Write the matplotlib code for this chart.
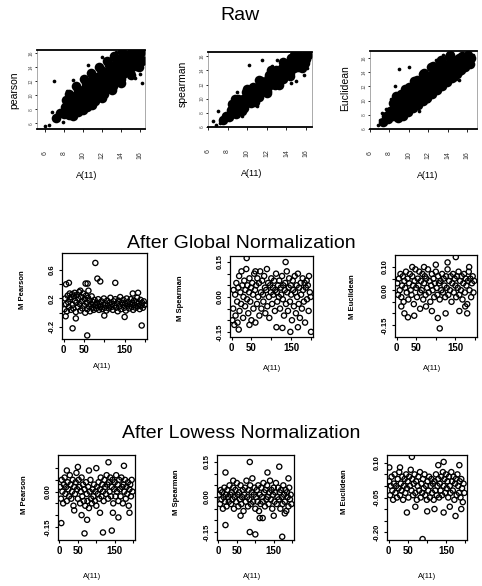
import matplotlib
matplotlib.use("Agg")
import matplotlib.pyplot as plt

plt.rcParams['font.family'] = ['Liberation Sans', 'DejaVu Sans']

# ---- raw scatter data (A(11) vs. measure) ----
raw_pearson_core = [(7.2,6.8),(7.6,7.5),(8.0,7.4),(8.1,8.3),(8.5,7.9),(8.6,9.0),(8.9,8.4),(9.0,9.6),(9.2,7.9),(9.4,9.0),
    (9.5,10.3),(9.7,8.6),(9.9,9.7),(10.0,10.8),(10.2,8.9),(10.3,11.4),(10.5,10.0),(10.6,9.2),(10.8,11.0),(10.9,12.1),
    (11.1,10.1),(11.2,11.7),(11.4,9.6),(11.5,12.6),(11.7,10.8),(11.8,11.9),(12.0,12.9),(12.1,10.5),(12.3,11.6),(12.4,13.4),
    (12.6,12.4),(12.7,11.1),(12.9,13.8),(13.0,12.0),(13.2,13.0),(13.3,14.3),(13.5,12.5),(13.6,13.7),(13.8,14.8),(13.9,12.9),
    (14.1,14.2),(14.2,15.3),(14.4,13.5),(14.5,14.7),(14.7,15.8),(14.9,14.3),(15.0,15.4),(15.3,16.0),(15.5,14.9),(15.8,15.8),
    (16.1,16.2),(10.0,9.8),(11.0,11.0),(12.0,11.8),(13.0,13.2),(9.2,9.1),(10.7,10.5),(11.6,11.3),
    (8.5,10.2),(9.3,11.3),(10.1,12.4),(10.9,13.2),(11.7,14.0),(12.5,14.9),(13.3,15.6),(14.1,16.2),(9.0,7.0),
    (10.0,7.9),(11.0,8.7),(12.0,9.7),(13.0,10.8),(14.0,11.8),(15.0,12.9),(15.9,14.0),(16.2,15.0),
    (8.2,9.3),(8.8,9.9),(9.5,10.8),(10.3,11.8),(11.1,12.7),(11.9,13.6),(12.7,14.4),(13.5,15.2),(14.3,15.8),(15.1,16.3),
    (8.6,7.2),(9.5,7.6),(10.4,8.4),(11.3,9.2),(12.2,10.2),(13.1,11.3),(14.0,12.4),(14.8,13.4),(15.6,14.2),(16.2,14.9),
    (9.8,10.4),(10.5,11.0),(11.3,12.3),(12.2,13.1),(13.0,14.0),(13.8,14.1),(14.6,15.1),(10.4,9.5),(11.2,10.6),
    (12.4,11.2),(13.4,12.2),(14.2,13.0),(15.0,14.1)]
raw_pearson_out = [(6.0,5.6),(6.5,5.8),(7.9,6.2),(9.0,12.2),(10.5,14.3),(12.0,15.5),(15.5,12.5),(16.0,13.0),(7.0,12.0),
    (13.5,16.2),(15.2,13.4),(8.3,10.6),(16.2,11.8),(6.8,7.6)]

raw_spearman_core = [(7.5,7.0),(7.8,7.6),(8.1,7.4),(8.3,8.4),(8.6,8.0),(8.8,9.0),(9.0,8.3),(9.2,9.5),(9.4,8.8),(9.6,9.9),
    (9.8,9.2),(10.0,10.4),(10.2,9.6),(10.4,10.9),(10.5,10.1),(10.7,11.3),(10.9,10.4),(11.1,11.7),(11.2,10.8),(11.4,12.0),
    (11.6,11.2),(11.8,12.4),(11.9,11.5),(12.1,12.8),(12.3,11.9),(12.5,13.2),(12.6,12.3),(12.8,13.5),(13.0,12.6),(13.2,13.9),
    (13.3,13.0),(13.5,14.3),(13.7,13.3),(13.9,14.6),(14.0,13.7),(14.2,15.0),(14.4,14.0),(14.6,15.3),(14.8,14.4),(15.0,15.6),
    (15.2,14.8),(15.4,15.9),(15.6,15.2),(15.8,16.1),(16.0,15.6),(16.2,16.2),(9.5,9.4),(10.3,10.3),(11.3,11.4),(12.2,12.3),
    (13.1,13.2),(14.1,14.3),(15.1,15.2),(8.7,8.6),(11.7,11.8),(12.9,13.0),
    (8.8,10.0),(10.0,11.4),(11.2,12.7),(12.4,14.0),(13.6,15.2),(14.8,16.2),(9.5,8.2),(10.8,9.5),(12.0,10.8),
    (13.2,12.0),(14.4,13.2),(15.6,14.4),
    (8.4,9.2),(9.1,10.0),(9.9,10.9),(10.6,11.7),(11.4,12.5),(12.2,13.4),(12.9,14.1),(13.7,14.8),(14.5,15.7),(15.2,16.2),
    (8.9,7.9),(9.7,8.7),(10.4,9.4),(11.2,10.2),(12.0,11.1),(12.8,12.0),(13.6,12.8),(14.4,13.6),(15.2,14.5),(15.9,15.0)]
raw_spearman_out = [(6.8,6.3),(7.2,6.5),(6.5,6.8),(9.0,10.9),(9.5,7.5),(11.5,15.4),(10.2,14.8),(14.5,12.2),(15.0,12.5),
    (15.8,13.4),(16.1,14.3),(13.0,15.5),(12.5,14.6),(11.0,9.0),(8.2,9.6),(7.0,8.3)]

raw_euclid_core = [(7.3,7.0),(7.6,7.8),(7.9,7.4),(8.1,8.6),(8.4,7.9),(8.6,9.2),(8.8,8.4),(9.0,9.8),(9.2,8.7),(9.4,10.3),
    (9.6,9.2),(9.8,10.8),(10.0,9.6),(10.2,11.2),(10.3,10.0),(10.5,11.6),(10.7,10.3),(10.9,12.0),(11.0,10.7),(11.2,12.4),
    (11.4,11.1),(11.6,12.8),(11.8,11.5),(12.0,13.2),(12.1,11.8),(12.3,13.6),(12.5,12.2),(12.7,14.0),(12.9,12.6),(13.1,14.3),
    (13.3,13.0),(13.5,14.7),(13.7,13.4),(13.9,15.0),(14.1,13.8),(14.3,15.3),(14.5,14.2),(14.7,15.7),(14.9,14.6),(15.1,16.0),
    (15.3,15.0),(15.5,16.3),(15.8,15.5),(16.1,16.5),(16.4,16.0),(9.7,10.0),(10.6,10.9),(11.5,11.9),(12.4,12.9),(13.4,13.8),
    (14.4,14.7),(8.5,8.6),(15.2,15.5),
    (8.7,10.6),(9.6,11.7),(10.5,12.7),(11.4,13.7),(12.3,14.7),(13.2,15.5),(14.1,16.2),(9.4,7.9),(10.4,8.9),
    (11.4,9.9),(12.4,11.0),(13.4,12.1),(14.4,13.2),(15.4,14.3),(16.3,15.2),
    (8.4,9.7),(9.2,10.9),(10.0,11.9),(10.8,12.9),(11.6,13.9),(12.5,14.9),(13.3,15.7),(14.2,16.4),
    (8.9,7.6),(9.9,8.4),(10.9,9.4),(11.9,10.4),(12.9,11.5),(13.9,12.6),(14.9,13.7),(15.8,14.8),
    (10.1,10.6),(11.0,11.5),(11.9,12.5),(12.8,13.4),(13.7,14.3),(14.6,15.2),(10.3,9.4),(11.3,10.5),(12.3,11.4),
    (13.2,12.3),(14.2,13.3),(15.1,14.2)]
raw_euclid_out = [(6.8,6.6),(7.0,7.3),(7.2,8.2),(7.6,8.8),(8.2,10.2),(9.0,14.4),(8.6,12.1),(10.0,14.8),(12.8,15.8),
    (13.5,16.4),(14.8,13.0),(15.2,12.9),(16.3,15.0),(16.6,16.4),(12.0,10.0),(11.0,8.5),(9.0,7.5)]

# ---- after global normalization (A(11) rank vs. M) ----
glob_pearson = [(2,0.05),(4,0.20),(6,0.12),(8,0.02),(10,0.24),(11,0.15),(13,0.08),(15,0.27),(16,0.19),(18,0.04),
    (19,0.22),(21,0.26),(22,0.11),(24,0.06),(25,0.23),(27,0.28),(28,0.17),(30,0.01),(31,0.14),(33,0.25),(35,0.08),
    (36,0.20),(38,0.29),(40,0.12),(41,0.03),(43,0.22),(45,0.16),(46,0.06),(48,0.27),(50,0.10),(52,0.19),(53,0.00),
    (55,0.24),(57,0.14),(58,0.05),(60,0.21),(62,0.09),(64,0.17),(65,0.02),(67,0.12),(69,0.23),(71,0.07),(72,0.15),
    (74,0.04),(76,0.18),(78,0.11),(80,0.06),(82,0.14),(84,0.09),(85,0.19),(87,0.04),(89,0.12),(91,0.08),(93,0.16),
    (95,0.05),(97,0.11),(99,0.20),(101,0.07),(103,0.13),(105,0.03),(107,0.17),(109,0.10),(111,0.06),(113,0.14),
    (115,0.21),(117,0.08),(119,0.12),(121,0.04),(123,0.16),(125,0.10),(127,0.19),(129,0.07),(131,0.13),(133,0.02),
    (135,0.17),(137,0.09),(139,0.22),(141,0.05),(143,0.14),(145,0.11),(147,0.18),(149,0.07),(151,0.13),(153,0.03),
    (155,0.20),(157,0.10),(159,0.15),(161,0.06),(163,0.12),(165,0.19),(167,0.08),(169,0.14),(171,0.04),(173,0.17),
    (175,0.11),(177,0.07),(179,0.15),(181,0.21),(183,0.09),(185,0.13),(187,0.05),(189,0.18),(191,0.10),(193,0.14),
    (195,0.07),(197,0.16),(199,0.11),
    (13,0.42),(6,0.40),(78,0.70),(83,0.48),(90,0.44),(54,0.41),(59,0.41),(127,0.42),(58,-0.32),(22,-0.22),
    (192,-0.18),(183,0.28),(41,0.31),(61,0.31),(5,-0.05),(150,-0.06),(100,-0.04),(30,-0.08),(170,0.27)]

glob_spearman = [(2,-0.10),(4,-0.05),(5,0.03),(7,-0.12),(9,0.01),(10,-0.08),(12,0.06),(14,-0.02),(15,-0.11),(17,0.04),
    (19,0.09),(20,-0.06),(22,0.02),(24,-0.03),(25,0.11),(27,0.05),(29,-0.09),(30,0.00),(32,0.07),(34,-0.04),(35,0.03),
    (37,0.12),(39,-0.01),(40,0.05),(42,-0.07),(44,0.02),(45,0.08),(47,-0.02),(49,0.04),(50,-0.10),(52,0.06),(54,0.01),
    (55,-0.05),(57,0.10),(59,0.03),(60,-0.11),(62,0.05),(64,-0.03),(65,0.08),(67,0.00),(69,0.06),(70,-0.08),(72,0.11),
    (74,0.02),(75,-0.05),(77,0.07),(79,0.01),(80,-0.02),(82,0.09),(84,0.04),(85,-0.07),(87,0.03),(89,0.12),(90,-0.04),
    (92,0.06),(94,0.00),(95,-0.09),(97,0.05),(99,0.02),(100,0.08),(102,-0.03),(104,0.04),(105,0.01),(107,0.07),
    (109,-0.06),(110,0.03),(112,0.10),(114,0.02),(115,-0.02),(117,0.05),(119,0.00),(120,0.07),(122,-0.05),(124,0.04),
    (125,0.01),(127,0.09),(129,-0.01),(130,0.05),(132,-0.08),(134,0.03),(135,0.06),(137,-0.03),(139,0.11),(140,0.02),
    (142,-0.06),(144,0.04),(145,0.08),(147,-0.02),(149,0.05),(150,0.01),(152,-0.10),(154,0.07),(155,0.03),(157,-0.04),
    (159,0.09),(160,0.02),(162,-0.07),(164,0.05),(165,0.00),(167,0.10),(169,-0.03),(170,0.04),(172,-0.09),(174,0.06),
    (175,0.01),(177,-0.05),(179,0.08),(180,0.03),(182,-0.02),(184,0.06),(185,-0.11),(187,0.04),(189,0.07),(190,-0.01),
    (192,0.05),(194,-0.06),(195,0.09),(197,0.02),(199,0.00),
    (38,0.167),(136,0.15),(128,-0.133),(148,-0.15),(167,-0.13),(200,-0.15),(113,-0.13),(60,0.11),(18,-0.14),(45,-0.12)]

glob_euclid = [(2,0.03),(4,-0.02),(6,0.05),(8,0.00),(10,0.07),(12,-0.03),(14,0.02),(16,0.06),(18,-0.05),(20,0.04),
    (22,0.01),(24,0.08),(26,-0.01),(28,0.05),(30,-0.04),(32,0.03),(34,0.07),(36,0.00),(38,-0.02),(40,0.06),(42,0.02),
    (44,-0.06),(46,0.04),(48,0.09),(50,0.01),(52,-0.03),(54,0.05),(56,0.02),(58,0.08),(60,-0.01),(62,0.04),(64,0.00),
    (66,0.07),(68,-0.04),(70,0.03),(72,0.06),(74,-0.02),(76,0.05),(78,0.01),(80,0.09),(82,-0.01),(84,0.04),(86,-0.05),
    (88,0.02),(90,0.07),(92,0.00),(94,0.05),(96,-0.03),(98,0.03),(100,0.08),(102,0.01),(104,-0.02),(106,0.06),(108,0.03),
    (110,-0.04),(112,0.04),(114,0.00),(116,0.07),(118,-0.01),(120,0.05),(122,0.02),(124,-0.03),(126,0.06),(128,0.01),
    (130,0.09),(132,-0.02),(134,0.04),(136,0.00),(138,0.06),(140,-0.05),(142,0.03),(144,0.07),(146,-0.01),(148,0.05),
    (150,0.02),(152,-0.03),(154,0.06),(156,0.01),(158,0.08),(160,-0.02),(162,0.04),(164,0.00),(166,0.06),(168,-0.04),
    (170,0.03),(172,0.07),(174,-0.01),(176,0.05),(178,0.02),(180,-0.06),(182,0.04),(184,0.08),(186,0.00),(188,0.05),
    (190,-0.03),(192,0.03),(194,0.06),(196,-0.01),(198,0.04),
    (151,0.143),(12,-0.07),(20,-0.10),(29,-0.117),(45,-0.11),(60,-0.08),(75,-0.07),(90,-0.09),(105,-0.12),(110,-0.165),
    (125,-0.10),(160,-0.09),(175,-0.07),(180,-0.10),(100,0.11),(70,0.10),(185,0.10),(130,0.12),(40,0.10)]

# ---- after lowess normalization ----
lowess_pearson = [(2,0.02),(4,-0.03),(6,0.05),(8,0.00),(10,-0.05),(12,0.03),(14,0.06),(16,-0.01),(18,0.02),(20,-0.04),
    (22,0.04),(24,0.01),(26,-0.02),(28,0.07),(30,0.03),(32,-0.03),(34,0.00),(36,0.05),(38,-0.06),(40,0.02),(42,-0.01),
    (44,0.04),(46,0.08),(48,0.01),(50,-0.03),(52,0.05),(54,0.02),(56,-0.05),(58,0.00),(60,0.06),(62,-0.02),(64,0.03),
    (66,-0.04),(68,0.01),(70,-0.06),(72,0.04),(74,-0.01),(76,-0.04),(78,0.02),(80,-0.07),(82,0.00),(84,0.05),(86,-0.03),
    (88,-0.05),(90,0.01),(92,-0.02),(94,0.03),(96,-0.04),(98,0.00),(100,-0.06),(102,0.02),(104,-0.01),(106,0.04),
    (108,-0.03),(110,0.01),(112,0.06),(114,-0.02),(116,0.03),(118,0.00),(120,-0.04),(122,0.05),(124,0.02),(126,-0.01),
    (128,0.07),(130,0.03),(132,-0.03),(134,0.04),(136,0.00),(138,0.06),(140,-0.02),(142,0.02),(144,0.05),(146,-0.05),
    (148,0.01),(150,0.04),(152,-0.02),(154,0.07),(156,0.00),(158,0.03),(160,-0.04),(162,0.05),(164,0.01),(166,-0.02),
    (168,0.06),(170,0.02),(172,-0.05),(174,0.03),(176,0.00),(178,0.05),(180,-0.03),(182,0.02),(184,-0.01),(186,0.04),
    (188,-0.06),(190,0.01),(192,0.03),(194,-0.02),(196,0.05),(198,0.00),
    (5,-0.134),(50,0.105),(68,-0.178),(133,0.125),(118,-0.174),(142,-0.166),(20,0.09),(60,-0.10),(75,-0.12),
    (100,0.10),(160,-0.11),(175,0.11),(190,-0.09),(40,-0.08),(145,-0.09),(110,-0.09),(80,0.09)]

lowess_spearman = [(2,0.01),(4,-0.03),(6,0.03),(8,-0.01),(10,0.02),(12,-0.05),(14,0.00),(16,0.04),(18,-0.02),(20,0.01),
    (22,-0.04),(24,0.03),(26,0.00),(28,-0.02),(30,0.05),(32,0.01),(34,-0.03),(36,0.02),(38,-0.01),(40,0.04),(42,-0.05),
    (44,0.00),(46,0.03),(48,-0.02),(50,0.06),(52,0.01),(54,-0.04),(56,0.02),(58,-0.01),(60,0.05),(62,-0.03),(64,0.00),
    (66,0.03),(68,-0.06),(70,0.01),(72,0.04),(74,-0.02),(76,0.07),(78,0.00),(80,-0.04),(82,0.03),(84,-0.01),(86,0.05),
    (88,-0.03),(90,0.02),(92,0.08),(94,-0.02),(96,0.01),(98,0.04),(100,-0.05),(102,0.00),(104,0.03),(106,-0.02),
    (108,0.05),(110,-0.06),(112,0.01),(114,-0.03),(116,0.04),(118,0.00),(120,-0.02),(122,0.06),(124,0.02),(126,-0.04),
    (128,0.03),(130,-0.01),(132,0.05),(134,0.00),(136,-0.03),(138,0.02),(140,0.07),(142,-0.01),(144,0.03),(146,-0.05),
    (148,0.01),(150,0.04),(152,-0.02),(154,0.02),(156,0.06),(158,-0.03),(160,0.00),(162,0.04),(164,-0.01),(166,0.02),
    (168,-0.05),(170,0.03),(172,0.00),(174,-0.03),(176,0.05),(178,0.01),(180,-0.02),(182,0.03),(184,-0.06),(186,0.02),
    (188,0.00),(190,-0.04),(192,0.04),(194,-0.01),(196,0.01),(198,-0.03),
    (85,0.15),(165,0.13),(19,0.105),(133,0.105),(85,-0.15),(100,-0.16),(173,-0.17),(19,-0.12),(112,-0.09),(120,-0.09),
    (190,0.08),(60,-0.08),(180,-0.07),(40,0.07),(150,-0.08)]

lowess_euclid = [(2,0.02),(4,-0.04),(6,0.00),(8,0.04),(10,-0.02),(12,-0.06),(14,0.01),(16,0.05),(18,-0.03),(20,0.00),
    (22,-0.05),(24,0.03),(26,-0.01),(28,0.06),(30,-0.04),(32,0.01),(34,-0.02),(36,0.04),(38,-0.06),(40,0.00),(42,0.03),
    (44,-0.03),(46,0.05),(48,-0.01),(50,0.02),(52,-0.05),(54,0.04),(56,0.00),(58,0.07),(60,-0.02),(62,0.03),(64,-0.04),
    (66,0.01),(68,0.05),(70,-0.03),(72,0.02),(74,-0.06),(76,0.00),(78,0.04),(80,-0.02),(82,0.06),(84,-0.05),(86,0.01),
    (88,-0.03),(90,0.03),(92,-0.01),(94,0.05),(96,-0.04),(98,0.00),(100,-0.06),(102,0.02),(104,-0.02),(106,0.04),
    (108,-0.05),(110,0.00),(112,0.03),(114,-0.03),(116,0.01),(118,-0.06),(120,0.02),(122,-0.02),(124,0.05),(126,-0.04),
    (128,0.00),(130,0.03),(132,-0.05),(134,0.01),(136,-0.02),(138,0.04),(140,-0.04),(142,0.06),(144,0.00),(146,0.03),
    (148,-0.03),(150,0.05),(152,-0.01),(154,0.02),(156,-0.05),(158,0.04),(160,0.00),(162,-0.03),(164,0.06),(166,0.02),
    (168,-0.02),(170,0.04),(172,-0.06),(174,0.01),(176,0.03),(178,-0.04),(180,0.05),(182,0.00),(184,-0.03),(186,0.02),
    (188,-0.05),(190,0.03),(192,-0.01),(194,-0.07),(196,0.01),(198,-0.03),
    (61,0.126),(144,0.104),(89,-0.23),(48,-0.115),(175,-0.13),(101,-0.11),(144,-0.115),(120,-0.10),(2,0.08),
    (130,0.09),(185,0.09),(70,-0.09),(30,0.08),(160,-0.09),(190,-0.10)]

raw_ticks = [6, 8, 10, 12, 14, 16]
norm_xticks = [0, 50, 100, 150, 200]
norm_xticklabels = ["0", "50", "", "150", ""]

W, H = 482, 586
fig = plt.figure(figsize=(W / 100, H / 100), dpi=100)


def add_ax(x0, y0, x1, y1):
    return fig.add_axes([x0 / W, 1 - y1 / H, (x1 - x0) / W, (y1 - y0) / H])


def ftext(x, y, s, **kw):
    fig.text(x / W, 1 - y / H, s, ha="center", va="center", **kw)


def raw_panel(box, core, out, lim, ylabel, xlab_pos, ylab_pos):
    ax = add_ax(*box)
    ax.scatter(*zip(*core), s=48, color="black", linewidths=0)
    ax.scatter(*zip(*out), s=7, color="black", linewidths=0)
    ax.set_xlim(*lim)
    ax.set_ylim(*lim)
    ax.set_xticks(raw_ticks)
    ax.set_xticklabels([str(t) for t in raw_ticks], rotation=90, fontsize=5, color="#333333")
    ax.set_yticks(raw_ticks)
    ax.set_yticklabels([str(t) for t in raw_ticks], rotation=90, va="center", fontsize=3.5, color="#555555")
    ax.tick_params(axis="x", direction="out", length=2, width=0.6, pad=14)
    ax.tick_params(axis="y", direction="out", length=1.5, width=0.6, pad=1)
    for side in ["top", "bottom"]:
        ax.spines[side].set_linewidth(1.3)
    for side in ["left", "right"]:
        ax.spines[side].set_linewidth(0.5)
        ax.spines[side].set_color("#888888")
    ftext(*xlab_pos, "A(11)", fontsize=6.5)
    ftext(*ylab_pos, ylabel, fontsize=7.5, rotation=90)


def norm_panel(box, pts, ylim, yticks, yticklabels, ylabel, xlab_pos, ylab_pos):
    ax = add_ax(*box)
    ax.scatter(*zip(*pts), s=14, facecolors="none", edgecolors="black", linewidths=0.95)
    ax.set_xlim(-4, 205)
    ax.set_ylim(*ylim)
    ax.set_xticks(norm_xticks)
    ax.set_xticklabels(norm_xticklabels, fontsize=7, fontweight="bold")
    ax.set_yticks(yticks)
    ax.set_yticklabels(yticklabels, rotation=90, va="center", fontsize=5.5, fontweight="bold")
    ax.tick_params(direction="out", length=2.5, width=0.8, pad=2)
    for s in ax.spines.values():
        s.set_linewidth(0.9)
    ftext(*xlab_pos, "A(11)", fontsize=5.5)
    ftext(*ylab_pos, ylabel, fontsize=5.5, rotation=90, fontweight="bold")


# ---- titles ----
ftext(240, 15, "Raw", fontsize=14)
ftext(241, 243, "After Global Normalization", fontsize=14)
ftext(241, 433, "After Lowess Normalization", fontsize=14)

# ---- raw row ----
raw_panel((37, 50, 145, 129), raw_pearson_core, raw_pearson_out, (5.2, 16.5), "pearson", (87, 175), (14, 90))
raw_panel((208, 52, 312, 127), raw_spearman_core, raw_spearman_out, (6.0, 16.6), "spearman", (252, 173), (183, 84))
raw_panel((370, 51, 477, 129), raw_euclid_core, raw_euclid_out, (6.3, 17.0), "Euclidean", (428, 175), (345, 88))

# ---- global normalization row ----
norm_panel((62, 253, 147, 339), glob_pearson, (-0.37, 0.84), [-0.2, 0.0, 0.2, 0.4, 0.6],
           ["-0.2", "", "0.2", "", "0.6"], "M Pearson", (102, 367), (22, 290))
norm_panel((230, 256, 313, 337), glob_spearman, (-0.172, 0.176), [-0.15, -0.10, -0.05, 0.0, 0.05, 0.10, 0.15],
           ["-0.15", "", "", "0.00", "", "", "0.15"], "M Spearman", (272, 368), (180, 298))
norm_panel((395, 255, 477, 337), glob_euclid, (-0.202, 0.152), [-0.15, -0.10, -0.05, 0.0, 0.05, 0.10],
           ["-0.15", "", "", "0.00", "", "0.10"], "M Euclidean", (432, 368), (352, 297))

# ---- lowess normalization row ----
norm_panel((58, 455, 135, 540), lowess_pearson, (-0.206, 0.156), [-0.15, -0.10, -0.05, 0.0, 0.05, 0.10],
           ["-0.15", "", "", "0.00", "", ""], "M Pearson", (92, 577), (25, 495))
norm_panel((217, 455, 294, 540), lowess_spearman, (-0.184, 0.18), [-0.15, -0.10, -0.05, 0.0, 0.05, 0.10, 0.15],
           ["-0.15", "", "", "0.00", "", "", "0.15"], "M Spearman", (252, 577), (177, 492))
norm_panel((387, 455, 467, 540), lowess_euclid, (-0.234, 0.134), [-0.20, -0.15, -0.10, -0.05, 0.0, 0.05, 0.10],
           ["-0.20", "", "", "-0.05", "", "", "0.10"], "M Euclidean", (427, 577), (345, 492))

fig.savefig("out.png", dpi=100, facecolor="white")
